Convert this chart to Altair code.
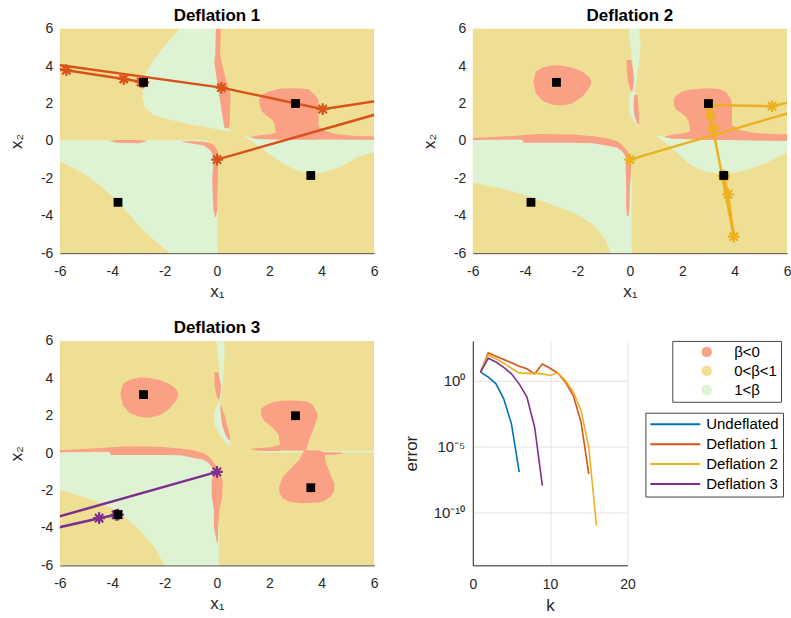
import altair as alt
import pandas as pd

FONT = "Liberation Sans"
YEL = "#EEDF95"
RED = "#F9A085"
GRN = "#DEF3D3"
TXT = "#262626"

X_DOMAIN = [-6, 6]
Y_DOMAIN = [-6, 6]
TICKS = [-6, -4, -2, 0, 2, 4, 6]

# roots of the system (black squares)
ROOT_X = [3.0, -2.805, -3.779, 3.584]
ROOT_Y = [2.0, 3.131, -3.283, -1.848]

# Newton paths (iterates), some lie outside the plotted window
D1_PATH_X = [0.0, 9.9, 4.04, 0.17, -16.5, -5.75, -3.56, -2.9, -2.81]
D1_PATH_Y = [-1.0, 2.95, 1.70, 2.85, 6.1, 3.78, 3.31, 3.16, 3.13]
D2_PATH_X = [0.0, 12.4, 5.43, 3.02, 3.08, 3.17, 3.97, 3.75, 3.6, 3.584]
D2_PATH_Y = [-1.0, 4.1, 1.86, 1.92, 1.36, 0.69, -5.12, -2.85, -1.9, -1.848]
D3_PATH_X = [0.0, -13.6, -4.5, -3.85, -3.78]
D3_PATH_Y = [-1.0, -6.39, -3.48, -3.3, -3.283]

# ---- region maps: vertical pieces (x, y_low, y_high), horizontal pieces (y, x_left, x_right)
P1_GREEN_V = {
    "ll": [(-6.0, -1.1, 0.03), (-5.0, -1.82, 0.03), (-4.4, -2.45, 0.03), (-3.84, -3.16, 0.03),
           (-3.4, -3.85, 0.03), (-2.95, -4.58, 0.03), (-2.4, -5.3, 0.03), (-1.8, -6.0, 0.03),
           (-0.4, -6.0, 0.03), (-0.05, -6.0, -0.6), (0.02, -6.0, -0.9)],
    "right": [(1.05, 0.28, 0.3), (1.5, -0.2, 0.1), (2.0, -0.7, 0.08), (2.5, -1.2, 0.08),
              (3.0, -1.55, 0.08), (3.5, -1.72, 0.08), (4.0, -1.73, 0.07), (4.7, -1.4, 0.07),
              (5.4, -0.85, 0.06), (6.0, -0.58, 0.06)],
}
P1_GREEN_H = {
    "ul": [(0.5, 0.5, 0.55), (0.6, 0.1, 0.48), (0.7, -0.3, 0.42), (0.92, -1.17, 0.35),
           (1.15, -1.81, 0.3), (1.4, -2.44, 0.27), (1.82, -2.76, 0.22), (2.36, -2.85, 0.14),
           (2.9, -2.82, 0.06), (3.7, -2.69, -0.04), (4.4, -2.38, -0.08), (5.2, -1.93, -0.06),
           (6.0, -1.42, -0.03)],
}
P1_RED_V = {
    "blob": [(1.62, 2.0, 2.2), (1.7, 1.6, 2.45), (1.9, 1.35, 2.6), (2.13, 1.1, 2.7),
             (2.2, 0.9, 2.72), (2.25, 0.4, 2.75), (2.5, 0.08, 2.8), (3.0, 0.08, 2.82),
             (3.5, 0.08, 2.77), (3.78, 0.08, 2.4), (3.88, 0.3, 2.2)],
    "wing": [(1.3, 0.17, 0.21), (1.6, 0.1, 0.3), (2.0, 0.09, 0.36), (2.3, 0.08, 0.45),
             (3.0, 0.08, 0.5), (3.85, 0.08, 0.8), (4.1, 0.07, 0.55), (4.5, 0.07, 0.38),
             (5.2, 0.06, 0.28), (6.0, 0.06, 0.24)],
    "wedge": [(-1.3, -0.06, -0.02), (-0.9, -0.15, -0.02), (-0.5, -0.25, -0.05),
              (-0.25, -0.5, -0.12), (-0.1, -0.9, -0.25), (0.02, -1.0, -0.5), (0.08, -1.0, -0.85)],
    "dash": [(-4.1, -0.02, 0.0), (-3.8, -0.1, 0.05), (-3.0, -0.12, 0.05), (-2.7, -0.02, 0.02)],
}
P1_RED_H = {
    "strip_top": [(0.68, 0.3, 0.45), (0.9, 0.26, 0.48), (1.6, 0.18, 0.5), (2.5, 0.08, 0.52),
                  (3.4, -0.02, 0.32), (4.2, -0.1, 0.18), (4.6, -0.06, 0.12), (6.0, -0.04, 0.15)],
    "strip_bot": [(-4.05, -0.08, -0.04), (-3.7, -0.13, 0.01), (-3.0, -0.16, 0.02),
                  (-2.0, -0.18, 0.04), (-0.9, -0.12, 0.05)],
}

EGG = [(-3.68, 3.1, 3.25), (-3.59, 2.55, 3.7), (-3.33, 2.14, 3.93), (-2.95, 1.93, 4.04),
       (-2.57, 1.89, 4.02), (-2.19, 2.02, 3.91), (-1.81, 2.37, 3.7), (-1.56, 2.81, 3.43),
       (-1.48, 3.1, 3.2)]
BAND = [(-6.0, 0.05, 0.16), (-4.73, 0.07, 0.25), (-4.12, 0.07, 0.3), (-4.05, -0.1, 0.31),
        (-3.46, -0.1, 0.37), (-2.19, -0.1, 0.34), (-1.4, -0.12, 0.25), (-0.92, -0.25, 0.16),
        (-0.5, -0.35, 0.0), (-0.3, -0.55, -0.2), (-0.12, -0.9, -0.5), (0.02, -1.05, -0.8)]

P2_GREEN_V = {
    "ll": [(-6.0, -2.23, 0.05), (-4.73, -2.6, 0.05), (-3.9, -2.95, 0.05), (-3.0, -3.4, 0.05),
           (-2.19, -3.82, 0.05), (-1.6, -4.3, 0.05), (-1.3, -4.62, 0.05), (-0.92, -5.33, 0.0),
           (-0.73, -6.0, -0.1), (-0.4, -6.0, -0.2), (-0.1, -6.0, -0.6), (0.07, -6.0, -1.0)],
    "right": [(0.98, 0.28, 0.31), (1.36, -0.1, 0.2), (1.87, -0.73, 0.1), (2.38, -1.35, 0.08),
              (2.89, -1.65, 0.05), (3.65, -1.79, 0.05), (4.54, -1.52, 0.03), (5.17, -1.2, 0.02),
              (6.0, -0.6, 0.0)],
}
P2_GREEN_H = {
    "topA": [(2.7, 0.1, 0.15), (2.9, 0.1, 0.22), (4.2, 0.1, 0.35), (5.1, 0.02, 0.41), (6.0, -0.03, 0.35)],
    "topB": [(0.78, 0.28, 0.38), (1.0, 0.2, 0.35), (1.4, 0.0, 0.25), (2.0, -0.03, 0.2), (2.64, 0.0, 0.2)],
}
P2_RED_V = {
    "egg": EGG,
    "band": BAND,
    "blob": [(1.68, 1.95, 2.25), (1.75, 1.7, 2.4), (1.95, 1.5, 2.6), (2.13, 1.3, 2.69),
             (2.25, 1.0, 2.72), (2.32, 0.4, 2.75), (2.89, 0.05, 2.81), (3.4, 0.05, 2.78),
             (3.65, 0.05, 2.64), (3.84, 0.05, 2.3), (3.9, 0.4, 2.0)],
    "wing": [(1.34, 0.19, 0.23), (1.62, 0.12, 0.33), (2.13, 0.1, 0.42), (2.4, 0.08, 0.6),
             (3.0, 0.05, 0.6), (3.9, 0.05, 0.87), (4.16, 0.04, 0.6), (4.79, 0.02, 0.42),
             (6.0, 0.0, 0.34)],
}
P2_RED_H = {
    "stripA": [(2.64, 0.07, 0.08), (2.8, 0.0, 0.12), (3.2, -0.08, 0.16), (3.8, -0.12, 0.12), (4.32, -0.12, 0.05)],
    "stripB": [(0.87, 0.3, 0.35), (1.3, 0.18, 0.35), (1.8, 0.14, 0.33), (2.46, 0.16, 0.29)],
    "strip_bot": [(-4.0, -0.12, -0.05), (-3.5, -0.14, -0.02), (-2.5, -0.14, 0.0),
                  (-1.5, -0.16, 0.05), (-1.0, -0.15, 0.05)],
}

P3_GREEN_V = {
    "ll": [(-6.0, -1.96, 0.05), (-4.73, -2.5, 0.05), (-3.84, -3.05, 0.05), (-2.95, -4.1, 0.05),
           (-2.4, -5.0, 0.05), (-2.0, -6.0, 0.05), (-0.92, -6.0, 0.0), (-0.4, -6.0, -0.2),
           (-0.1, -6.0, -0.6), (0.07, -6.0, -1.0)],
    "line": [(1.5, 0.08, 0.1), (2.0, 0.04, 0.11), (3.0, 0.03, 0.12), (6.0, 0.03, 0.13)],
}
P3_GREEN_H = {
    "topA": [(2.85, 0.1, 0.15), (4.2, 0.1, 0.25), (5.0, 0.05, 0.28), (6.0, -0.03, 0.29)],
    "topB": [(0.4, 0.5, 0.55), (0.6, 0.3, 0.5), (1.0, 0.1, 0.35), (1.5, -0.1, 0.2),
             (2.2, -0.1, 0.15), (2.7, 0.05, 0.15)],
}
P3_RED_V = {
    "egg": EGG,
    "band": BAND,
    "upper": [(1.68, 2.05, 2.35), (1.8, 1.75, 2.5), (2.0, 1.5, 2.65), (2.2, 1.25, 2.75),
              (2.35, 1.0, 2.78), (2.44, 0.15, 2.8), (2.9, 0.14, 2.81), (3.4, 0.14, 2.76),
              (3.55, 0.8, 2.7), (3.7, 1.35, 2.5), (3.84, 1.9, 2.1)],
    "wingL": [(1.3, 0.2, 0.23), (1.6, 0.13, 0.28), (2.0, 0.12, 0.3), (2.3, 0.12, 0.4), (2.44, 0.14, 0.5)],
    "lower": [(2.38, -2.1, -1.8), (2.5, -2.4, -1.3), (2.76, -2.6, -0.9), (3.14, -2.67, -0.37),
              (3.33, -2.68, 0.16), (3.9, -2.64, 0.14), (4.1, -2.55, 0.05), (4.16, -2.5, -0.5),
              (4.35, -2.32, -1.2), (4.48, -2.0, -1.6)],
    "flare": [(4.05, -0.1, 0.05), (4.5, -0.08, 0.05), (4.8, -0.02, 0.03)],
}
P3_RED_H = {
    "stripA": [(2.85, 0.07, 0.08), (3.0, 0.0, 0.12), (3.6, -0.09, 0.16), (4.32, -0.1, 0.05)],
    "stripB": [(0.7, 0.45, 0.5), (1.0, 0.32, 0.48), (1.5, 0.2, 0.38), (2.0, 0.15, 0.3), (2.55, 0.12, 0.15)],
    "strip_bot": [(-4.8, 0.0, 0.03), (-3.9, -0.12, 0.05), (-3.0, -0.12, 0.1), (-2.3, -0.2, 0.2),
                  (-1.5, -0.2, 0.22), (-1.0, -0.12, 0.1)],
}

# ---- convergence history
SERIES = ["Undeflated", "Deflation 1", "Deflation 2", "Deflation 3"]
SERIES_COLORS = ["#0072BD", "#D95319", "#EDB120", "#7E2F8E"]
ERR_UNDEFLATED = [4.3, 1.8, 0.56, 0.041, 5.2e-4, 1.15e-7]
ERR_DEFL1 = [4.3, 126, 69, 39, 22, 12.3, 7.8, 3.2, 18, 8.5, 3.6, 0.74, 0.072, 6.9e-4, 8.5e-8]
ERR_DEFL2 = [4.3, 87, 44, 20, 8.5, 3.8, 3.5, 3.5, 3.2, 2.4, 3.8, 1.0, 0.13, 5.4e-3, 8.9e-6, 1.05e-11]
ERR_DEFL3 = [4.3, 49, 25, 10, 3.2, 0.56, 0.055, 2.9e-4, 1.1e-8]
REGIONS = ["β<0", "0<β<1", "1<β"]

STAR = "M-1,0L1,0M0,-1L0,1M-0.7,-0.7L0.7,0.7M-0.7,0.7L0.7,-0.7"
HYPHEN = "replace(datum.label, '\u2212', '-')"

XS = alt.Scale(domain=X_DOMAIN, nice=False, zero=False)
YS = alt.Scale(domain=Y_DOMAIN, nice=False, zero=False)
XA = alt.Axis(values=TICKS, title="x₁", grid=False, ticks=False, tickSize=0, labelFont=FONT,
              labelExpr=HYPHEN,
              labelFontSize=14, labelColor=TXT, labelPadding=11, labelFlush=False, labelOverlap=False,
              titleFont=FONT, titleFontSize=17, titleFontWeight="normal", titleColor=TXT,
              titlePadding=5, domain=True, domainColor=TXT, domainWidth=1)
YA = alt.Axis(values=TICKS, title="x₂", grid=False, ticks=False, tickSize=0, labelFont=FONT,
              labelExpr=HYPHEN,
              labelFontSize=14, labelColor=TXT, labelPadding=7, labelFlush=False, labelOverlap=False,
              titleFont=FONT, titleFontSize=17, titleFontWeight="normal", titleColor=TXT,
              titlePadding=15, domain=False)


def vdf(d):
    return pd.DataFrame([{"shape": k, "x": x, "lo": lo, "hi": hi}
                         for k, pts in d.items() for (x, lo, hi) in pts])


def hdf(d):
    return pd.DataFrame([{"shape": k, "y": y, "lo": lo, "hi": hi}
                         for k, pts in d.items() for (y, lo, hi) in pts])


def vlayer(d, col):
    return alt.Chart(vdf(d)).mark_area(orient="vertical", color=col, clip=True).encode(
        x=alt.X("x:Q", scale=XS, axis=XA),
        y=alt.Y("lo:Q", scale=YS, axis=YA), y2="hi:Q", detail="shape:N")


def hlayer(d, col):
    return alt.Chart(hdf(d)).mark_area(orient="horizontal", color=col, clip=True).encode(
        y=alt.Y("y:Q", scale=YS, axis=YA),
        x=alt.X("lo:Q", scale=XS, axis=XA), x2="hi:Q", detail="shape:N")


def panel(title, gv, gh, rv, rh, px, py, col):
    bg = alt.Chart(pd.DataFrame({"x0": [X_DOMAIN[0]], "x1": [X_DOMAIN[1]],
                                 "y0": [Y_DOMAIN[0]], "y1": [Y_DOMAIN[1]]})).mark_rect(color=YEL).encode(
        x=alt.X("x0:Q", scale=XS, axis=XA), x2="x1:Q",
        y=alt.Y("y0:Q", scale=YS, axis=YA), y2="y1:Q")
    path = pd.DataFrame({"step": list(range(len(px))), "px": px, "py": py})
    line = alt.Chart(path).mark_line(color=col, strokeWidth=2.5, clip=True).encode(
        x=alt.X("px:Q", scale=XS, axis=XA), y=alt.Y("py:Q", scale=YS, axis=YA), order="step:Q")
    stars = alt.Chart(path).mark_point(shape=STAR, filled=False, color=col, size=140,
                                       strokeWidth=2.2, opacity=1, clip=True).encode(
        x=alt.X("px:Q", scale=XS, axis=XA), y=alt.Y("py:Q", scale=YS, axis=YA))
    roots = alt.Chart(pd.DataFrame({"rx": ROOT_X, "ry": ROOT_Y})).mark_square(
        color="black", size=78, opacity=1).encode(
        x=alt.X("rx:Q", scale=XS, axis=XA), y=alt.Y("ry:Q", scale=YS, axis=YA))
    layers = [bg, vlayer(gv, GRN), hlayer(gh, GRN), vlayer(rv, RED), hlayer(rh, RED),
              line, stars, roots]
    return alt.layer(*layers).properties(
        width=315, height=225,
        title=alt.TitleParams(title, font=FONT, fontSize=17, fontWeight="bold", color="black",
                              offset=-3, anchor="middle"))


p1 = panel("Deflation 1", P1_GREEN_V, P1_GREEN_H, P1_RED_V, P1_RED_H, D1_PATH_X, D1_PATH_Y, "#D95319")
p2 = panel("Deflation 2", P2_GREEN_V, P2_GREEN_H, P2_RED_V, P2_RED_H, D2_PATH_X, D2_PATH_Y, "#EDB120")
p3 = panel("Deflation 3", P3_GREEN_V, P3_GREEN_H, P3_RED_V, P3_RED_H, D3_PATH_X, D3_PATH_Y, "#7E2F8E")

# ---- error plot
rows = []
for name, errs in zip(SERIES, [ERR_UNDEFLATED, ERR_DEFL1, ERR_DEFL2, ERR_DEFL3]):
    for i, e in enumerate(errs):
        rows.append({"series": name, "k": i + 1, "err": e})
err_df = pd.DataFrame(rows)

EXS = alt.Scale(domain=[0, 20], nice=False, zero=False)
EYS = alt.Scale(type="log", domain=[1e-14, 1e3], nice=False)
EXA = alt.Axis(values=[0, 10, 20], title="k", grid=True, gridColor="#E3E3E3", ticks=False, tickSize=0,
               labelFont=FONT, labelFontSize=14, labelColor=TXT, labelPadding=12, labelFlush=False,
               titleFont=FONT, titleFontSize=17, titleFontWeight="normal", titleColor=TXT,
               titlePadding=6, domainColor=TXT)
EYA = alt.Axis(values=[1e-10, 1e-5, 1], title="error", grid=True, gridColor="#E3E3E3", ticks=False,
               tickSize=0, labelExpr="datum.value > 0.1 ? '10⁰' : (datum.value > 1e-7 ? '10⁻⁵' : '10⁻¹⁰')",
               labelFont=FONT, labelFontSize=15, labelColor=TXT, labelPadding=8, labelFlush=False,
               titleFont=FONT, titleFontSize=17, titleFontWeight="normal", titleColor=TXT,
               titlePadding=13, domainColor=TXT)

err_lines = alt.Chart(err_df).mark_line(strokeWidth=1.6).encode(
    x=alt.X("k:Q", scale=EXS, axis=EXA),
    y=alt.Y("err:Q", scale=EYS, axis=EYA),
    color=alt.Color("series:N", scale=alt.Scale(domain=SERIES, range=SERIES_COLORS),
                    legend=alt.Legend(orient="none", legendX=173, legendY=72, title=None,
                                      symbolType="stroke", symbolSize=2500, symbolStrokeWidth=2,
                                      labelFont=FONT, labelFontSize=15, labelColor="black",
                                      padding=4, rowPadding=4, clipHeight=15, labelOffset=5,
                                      strokeColor="#444", fillColor="white")),
)
reg_df = pd.DataFrame({"region": REGIONS, "k": [-5, -5, -5], "err": [1, 1, 1]})
reg_pts = alt.Chart(reg_df).mark_point(filled=True, size=100, clip=True).encode(
    x=alt.X("k:Q", scale=EXS, axis=EXA),
    y=alt.Y("err:Q", scale=EYS, axis=EYA),
    fill=alt.Fill("region:N", scale=alt.Scale(domain=REGIONS, range=[RED, YEL, GRN]),
                  legend=alt.Legend(orient="none", legendX=200, legendY=0, title=None,
                                    symbolType="circle", symbolSize=110, symbolStrokeWidth=0,
                                    symbolOpacity=1, labelFont=FONT, labelFontSize=15,
                                    labelColor="black", padding=4, rowPadding=4, clipHeight=14,
                                    symbolOffset=23, labelOffset=20, strokeColor="#444",
                                    fillColor="white")),
)
p4 = alt.layer(err_lines, reg_pts).properties(width=155, height=225)

chart = alt.concat(p1, p2, p3, p4, columns=2, spacing={"row": 88, "column": 99},
                   bounds="flush").resolve_scale(
    color="independent", fill="independent").properties(
    padding={"left": 7, "top": 6, "right": 0, "bottom": 0}).configure_view(stroke=None)

chart.save("out.html", embed_options={"renderer": "svg", "actions": False})
